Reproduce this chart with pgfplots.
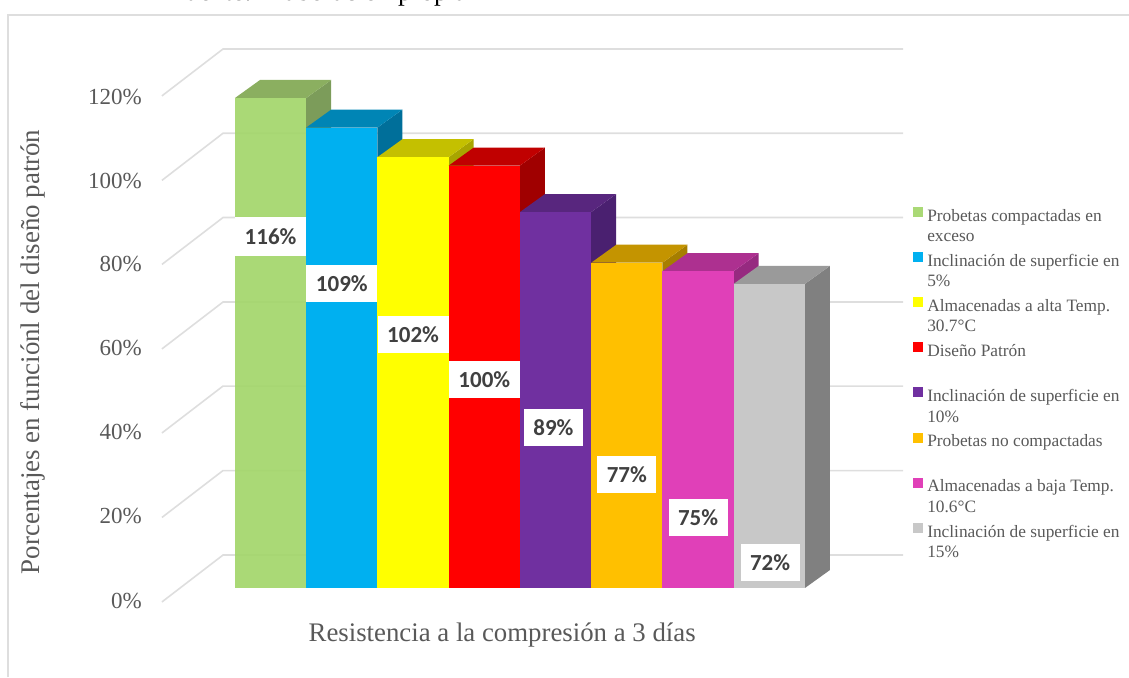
\documentclass[border=0pt]{standalone}
\usepackage{pgfplots}
\pgfplotsset{compat=1.18}
\usepackage{fontspec}
\setmainfont{Liberation Serif}
\newfontfamily\lab{Carlito}
\definecolor{tx}{HTML}{595959}
\definecolor{gr}{HTML}{DEDEDE}
\definecolor{dl}{HTML}{404040}
\newcommand{\legtxt}[1]{\parbox[t]{198pt}{\raggedright\baselineskip=20.5pt #1}}
\tikzset{dlab/.style={fill=white,text=dl,font=\lab\bfseries\fontsize{23}{24}\selectfont,inner sep=0pt,align=center,anchor=center}}
\begin{document}
\begin{tikzpicture}[x=1pt,y=1pt]
\path[use as bounding box] (0,0) rectangle (1129,677);
\clip (0,0) rectangle (1129,677);
\begin{axis}[
  at={(0,0)},anchor=south west,
  scale only axis,width=1129pt,height=677pt,
  xmin=-3.798,xmax=12.048,ymin=-21.07,ymax=139.2,
  axis line style={draw=none},
  xtick=\empty,
  major tick length=0pt,
  ytick={116.3,96.4,76.7,56.9,37.0,17.1,-3.0},
  yticklabels={120\%,100\%,80\%,60\%,40\%,20\%,0\%},
  yticklabel style={anchor=east,xshift=142pt,inner sep=0pt,font=\fontsize{23}{26}\selectfont,text=tx},
  ylabel={Porcentajes en funciónl del diseño patrón},
  ylabel style={at={(axis cs:-3.34,55.9)},anchor=center,font=\fontsize{26.9}{28}\selectfont,text=tx},
  xlabel={Resistencia a la compresión a 3 días},
  xlabel style={at={(axis cs:3.25,-11.2)},anchor=center,font=\fontsize{26.8}{28}\selectfont,text=tx},
  legend style={at={(axis cs:9.02,90.2)},anchor=north west,draw=none,fill=none,inner sep=0pt,outer sep=0pt,
    font=\fontsize{17.35}{20.5}\selectfont,text=tx,row sep=29.3pt,
    nodes={inner sep=0pt,outer sep=0pt}},
  legend cell align=left,
  legend image code/.code={\fill[#1] (0pt,-1pt) rectangle (9.5pt,9pt);\path (0pt,0pt) (14pt,0pt);},
]
% frame
\addplot[gr,line width=1.6pt,forget plot] coordinates {(-3.686,-21.07) (-3.686,135.65) (12.048,135.65)};
% gridlines
\addplot[gr,line width=1.6pt,forget plot] coordinates {(-1.525,116.5) (-0.668,127.6) (8.876,127.6)};
\addplot[gr,line width=1.6pt,forget plot] coordinates {(-1.525,96.5) (-0.668,107.65) (8.876,107.65)};
\addplot[gr,line width=1.6pt,forget plot] coordinates {(-1.525,76.6) (-0.668,87.7) (8.876,87.7)};
\addplot[gr,line width=1.6pt,forget plot] coordinates {(-1.525,56.6) (-0.668,67.7) (8.876,67.7)};
\addplot[gr,line width=1.6pt,forget plot] coordinates {(-1.525,36.7) (-0.668,47.8) (8.876,47.8)};
\addplot[gr,line width=1.6pt,forget plot] coordinates {(-1.525,16.7) (-0.668,27.8) (8.876,27.8)};
\addplot[gr,line width=1.6pt,forget plot] coordinates {(-1.525,-3.3) (-0.668,7.8) (8.876,7.8)};
% bar 0
\addplot[fill={rgb,255:red,124;green,156;blue,90},draw=none,forget plot] coordinates {(.5,0) (.851,4.26) (.851,120.26) (.5,116)} --cycle;
\addplot[fill={rgb,255:red,139;green,175;blue,96},draw=none,forget plot] coordinates {(-.5,116) (.5,116) (.851,120.26) (-.149,120.26)} --cycle;
\addplot[ybar,bar width=1,bar shift=0pt,draw=none,fill={rgb,255:red,163;green,214;blue,106},fill opacity=.92] coordinates {(0,116)};
\addlegendentry{\legtxt{Probetas compactadas en exceso}}
% bar 1
\addplot[fill={rgb,255:red,0;green,111;blue,154},draw=none,forget plot] coordinates {(1.5,0) (1.851,4.26) (1.851,113.26) (1.5,109)} --cycle;
\addplot[fill={rgb,255:red,0;green,133;blue,181},draw=none,forget plot] coordinates {(.5,109) (1.5,109) (1.851,113.26) (.851,113.26)} --cycle;
\addplot[ybar,bar width=1,bar shift=0pt,draw=none,fill={rgb,255:red,0;green,176;blue,240}] coordinates {(1,109)};
\addlegendentry{\legtxt{Inclinación de superficie en 5\%}}
% bar 2
\addplot[fill={rgb,255:red,168;green,165;blue,0},draw=none,forget plot] coordinates {(2.5,0) (2.851,4.26) (2.851,106.26) (2.5,102)} --cycle;
\addplot[fill={rgb,255:red,196;green,192;blue,0},draw=none,forget plot] coordinates {(1.5,102) (2.5,102) (2.851,106.26) (1.851,106.26)} --cycle;
\addplot[ybar,bar width=1,bar shift=0pt,draw=none,fill={rgb,255:red,255;green,255;blue,0}] coordinates {(2,102)};
\addlegendentry{\legtxt{Almacenadas a alta Temp. 30.7°C}}
% bar 3
\addplot[fill={rgb,255:red,160;green,0;blue,0},draw=none,forget plot] coordinates {(3.5,0) (3.851,4.26) (3.851,104.26) (3.5,100)} --cycle;
\addplot[fill={rgb,255:red,192;green,0;blue,0},draw=none,forget plot] coordinates {(2.5,100) (3.5,100) (3.851,104.26) (2.851,104.26)} --cycle;
\addplot[ybar,bar width=1,bar shift=0pt,draw=none,fill={rgb,255:red,255;green,0;blue,0}] coordinates {(3,100)};
\addlegendentry{\legtxt{Diseño Patrón}}
% bar 4
\addplot[fill={rgb,255:red,74;green,32;blue,112},draw=none,forget plot] coordinates {(4.5,0) (4.851,4.26) (4.851,93.26) (4.5,89)} --cycle;
\addplot[fill={rgb,255:red,88;green,38;blue,126},draw=none,forget plot] coordinates {(3.5,89) (4.5,89) (4.851,93.26) (3.851,93.26)} --cycle;
\addplot[ybar,bar width=1,bar shift=0pt,draw=none,fill={rgb,255:red,112;green,48;blue,160}] coordinates {(4,89)};
\addlegendentry{\legtxt{Inclinación de superficie en 10\%}}
% bar 5
\addplot[fill={rgb,255:red,166;green,126;blue,0},draw=none,forget plot] coordinates {(5.5,0) (5.851,4.26) (5.851,81.26) (5.5,77)} --cycle;
\addplot[fill={rgb,255:red,196;green,148;blue,0},draw=none,forget plot] coordinates {(4.5,77) (5.5,77) (5.851,81.26) (4.851,81.26)} --cycle;
\addplot[ybar,bar width=1,bar shift=0pt,draw=none,fill={rgb,255:red,255;green,192;blue,0}] coordinates {(5,77)};
\addlegendentry{\legtxt{Probetas no compactadas}}
% bar 6
\addplot[fill={rgb,255:red,150;green,42;blue,128},draw=none,forget plot] coordinates {(6.5,0) (6.851,4.26) (6.851,79.26) (6.5,75)} --cycle;
\addplot[fill={rgb,255:red,173;green,48;blue,144},draw=none,forget plot] coordinates {(5.5,75) (6.5,75) (6.851,79.26) (5.851,79.26)} --cycle;
\addplot[ybar,bar width=1,bar shift=0pt,draw=none,fill={rgb,255:red,224;green,64;blue,184}] coordinates {(6,75)};
\addlegendentry{\legtxt{Almacenadas a baja Temp. 10.6°C}}
% bar 7
\addplot[fill={rgb,255:red,128;green,128;blue,128},draw=none,forget plot] coordinates {(7.5,0) (7.851,4.26) (7.851,76.26) (7.5,72)} --cycle;
\addplot[fill={rgb,255:red,154;green,154;blue,154},draw=none,forget plot] coordinates {(6.5,72) (7.5,72) (7.851,76.26) (6.851,76.26)} --cycle;
\addplot[ybar,bar width=1,bar shift=0pt,draw=none,fill={rgb,255:red,200;green,200;blue,200}] coordinates {(7,72)};
\addlegendentry{\legtxt{Inclinación de superficie en 15\%}}
% data labels
\node[dlab,minimum width=71pt,minimum height=39pt] at (axis cs:0,83.2) {116\%};
\node[dlab,minimum width=71pt,minimum height=37pt] at (axis cs:1,72.1) {109\%};
\node[dlab,minimum width=71pt,minimum height=37pt] at (axis cs:2,60) {102\%};
\node[dlab,minimum width=71pt,minimum height=37pt] at (axis cs:3,49.4) {100\%};
\node[dlab,minimum width=59pt,minimum height=37pt] at (axis cs:3.97,37.9) {89\%};
\node[dlab,minimum width=59pt,minimum height=37pt] at (axis cs:5,26.9) {77\%};
\node[dlab,minimum width=59pt,minimum height=37pt] at (axis cs:6,16.7) {75\%};
\node[dlab,minimum width=59pt,minimum height=37pt] at (axis cs:7.01,6) {72\%};
% clipped source line above the frame
\node[anchor=base east,inner sep=0pt,text=black,font=\fontsize{27}{29}\selectfont] at (axis cs:2.76,139.15) {Fuente: Elaboración propia};
\end{axis}
\end{tikzpicture}
\end{document}
